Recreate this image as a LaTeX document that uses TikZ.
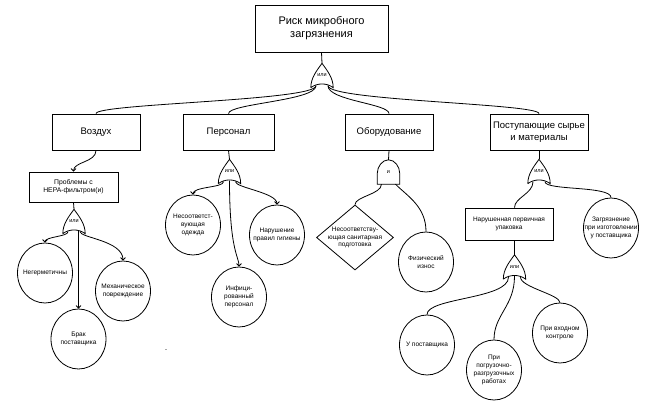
\documentclass[tikz,border=0pt]{standalone}
\usepackage{fontspec}
\setmainfont{Liberation Sans}
\usetikzlibrary{arrows.meta,calc,shapes.geometric}

% OR gate: pointed top, concave bottom
\newcommand{\orgate}[3]{%
  \node[gate] (#1) at (#2) {#3};
  \draw[wire] (#1.south west) .. controls ($(#1.south west)+(0,-10)$) and ($(#1.north)+(-5,7)$) .. (#1.north)
    .. controls ($(#1.north)+(5,7)$) and ($(#1.south east)+(0,-10)$) .. (#1.south east)
    .. controls ($(#1.south)+(5,-5)$) and ($(#1.south)+(-5,-5)$) .. (#1.south west);
  \coordinate (#1-l) at ($(#1.south)+(-6,-2)$);
  \coordinate (#1-c) at ($(#1.south)+(0,-3)$);
  \coordinate (#1-r) at ($(#1.south)+(6,-2)$);
}
% AND gate: dome on a flat base
\newcommand{\andgate}[3]{%
  \node[gate] (#1) at (#2) {#3};
  \draw[wire] (#1.south west) -- ($(#1.south west)+(0,-11)$)
    .. controls ($(#1.south west)+(0,-17.5)$) and ($(#1.north)+(-6.3,0)$) .. (#1.north)
    .. controls ($(#1.north)+(6.3,0)$) and ($(#1.south east)+(0,-17.5)$) .. ($(#1.south east)+(0,-11)$)
    -- (#1.south east) -- cycle;
  \coordinate (#1-l) at ($(#1.south)+(-7,0)$);
  \coordinate (#1-c) at (#1.south);
  \coordinate (#1-r) at ($(#1.south)+(7,0)$);
}

\begin{document}
\begin{tikzpicture}[x=1pt,y=-1pt,
  wire/.style={line width=0.8pt,draw=black},
  arrow/.style={wire,-{Straight Barb[length=2.5pt,width=5pt]}},
  event/.style={draw,line width=0.8pt,minimum height=36pt,inner sep=1pt,align=center,font=\fontsize{9.5}{12.5}\selectfont},
  small/.style={event,font=\fontsize{6.8}{8}\selectfont},
  basic/.style={draw,ellipse,line width=0.8pt,minimum width=55pt,minimum height=60pt,inner xsep=-12pt,inner ysep=0pt,align=center,font=\fontsize{6.5}{8}\selectfont},
  cond/.style={draw,diamond,line width=0.8pt,minimum width=77pt,minimum height=65pt,inner xsep=-15pt,inner ysep=-8pt,align=center,font=\fontsize{6.5}{7.5}\selectfont},
  gate/.style={minimum width=22pt,minimum height=24pt,inner sep=0pt,font=\fontsize{5.5}{6}\selectfont}]
  \path[use as bounding box,fill=white] (0,0) rectangle (647,402);

  \node[event,minimum width=133pt,minimum height=47pt,font=\fontsize{11}{13}\selectfont] (top) at (321.5,28.5) {Риск микробного\\загрязнения};
  \orgate{g0}{322,75.5}{или}

  \node[event,minimum width=88pt] (vozd) at (96,132) {Воздух};
  \node[event,minimum width=91pt] (pers) at (228.5,132) {Персонал};
  \node[event,minimum width=88pt] (obor) at (389,132) {Оборудование};
  \node[event,minimum width=98pt] (post) at (539,132) {Поступающие сырье\\и материалы};

  % Воздух
  \node[small,minimum width=89pt,minimum height=30pt] (hepa) at (73.5,187) {Проблемы с\\HEPA-фильтром(и)};
  \orgate{gv}{74,221.5}{или}
  \node[basic] (neg) at (45,273) {Негерметичны};
  \node[basic] (brak) at (78.5,339) {Брак\\поставщика};
  \node[basic] (mech) at (123,291) {Механическое\\повреждение};

  % Персонал
  \orgate{gp}{229.5,171.5}{или}
  \node[basic] (odezh) at (193,225) {Несоответст-\\вующая\\одежда};
  \node[basic] (infic) at (239,297) {Инфици-\\рованный\\персонал};
  \node[basic] (gig) at (277,235) {Нарушение\\правил гигиены};

  % Оборудование
  \andgate{go}{388.5,172}{и}
  \node[cond] (diam) at (355,237.5) {Несоответству-\\ющая санитарная\\подготовка};
  \node[basic] (fiz) at (426,262) {Физический\\износ};

  % Поступающие сырье и материалы
  \orgate{gs}{539,171.5}{или}
  \node[small,minimum width=88pt,minimum height=32pt,font=\fontsize{6.5}{8}\selectfont] (upak) at (509,224) {Нарушенная первичная\\упаковка};
  \node[basic] (zagr) at (611,228) {Загрязнение\\при изготовлении\\у поставщика};
  \orgate{gu}{514.5,267}{или}
  \node[basic] (upost) at (427,345) {У поставщика};
  \node[basic] (pogr) at (494,370) {При\\погрузочно-\\разгрузочных\\работах};
  \node[basic] (vhod) at (560,333) {При входном\\контроле};

  \node[font=\fontsize{6}{6}\selectfont,inner sep=0pt] (mark) at (166,351) {-};

  \draw[wire] (top.south) -- (g0.north);
  \draw[wire] (g0-l) .. controls +(0,15) and +(0,-10) .. (vozd.north);
  \draw[wire] (g0-l) .. controls +(0,15) and +(0,-10) .. (pers.north);
  \draw[wire] (g0-r) .. controls +(0,15) and +(0,-10) .. (obor.north);
  \draw[wire] (g0-r) .. controls +(0,15) and +(0,-10) .. (post.north);

  \draw[arrow] (vozd.south) .. controls +(0,12) and +(0,-10) .. (hepa.north);
  \draw[wire] (hepa.south) -- (gv.north);
  \draw[arrow] (gv-l) .. controls +(0,5) and +(0,-6) .. (neg.north);
  \draw[arrow] (brak.north |- gv-c) -- (brak.north);
  \draw[arrow] (gv-r) .. controls +(0,6) and +(0,-20) .. (mech.north);

  \draw[wire] (pers.south) -- (gp.north);
  \draw[arrow] (gp-l) .. controls +(0,6) and +(0,-8) .. (odezh.north);
  \draw[arrow] (gp-c) .. controls +(0,70) and +(0,-10) .. (infic.north);
  \draw[arrow] (gp-r) .. controls +(0,6) and +(0,-12) .. (gig.north);

  \draw[wire] (obor.south) -- (go.north);
  \draw[wire] (go-l) .. controls +(0,10) and +(0,-8) .. (diam.north);
  \draw[wire] (go-r) .. controls +(12,12) and +(0,-25) .. (fiz.north);

  \draw[wire] (post.south) -- (gs.north);
  \draw[wire] (gs-l) .. controls +(0,12) and +(0,-10) .. (gu.north |- upak.north);
  \draw[wire] (gs-r) .. controls +(0,9) and +(0,-12) .. (zagr.north);
  \draw[wire] (gu.north |- upak.south) -- (gu.north);
  \draw[wire] (gu-l) .. controls +(0,22) and +(0,-17) .. (upost.north);
  \draw[wire] (gu-c) .. controls +(0,30) and +(0,-25) .. (pogr.north);
  \draw[wire] (gu-r) .. controls +(0,10) and +(0,-8) .. (vhod.north);
\end{tikzpicture}
\end{document}
